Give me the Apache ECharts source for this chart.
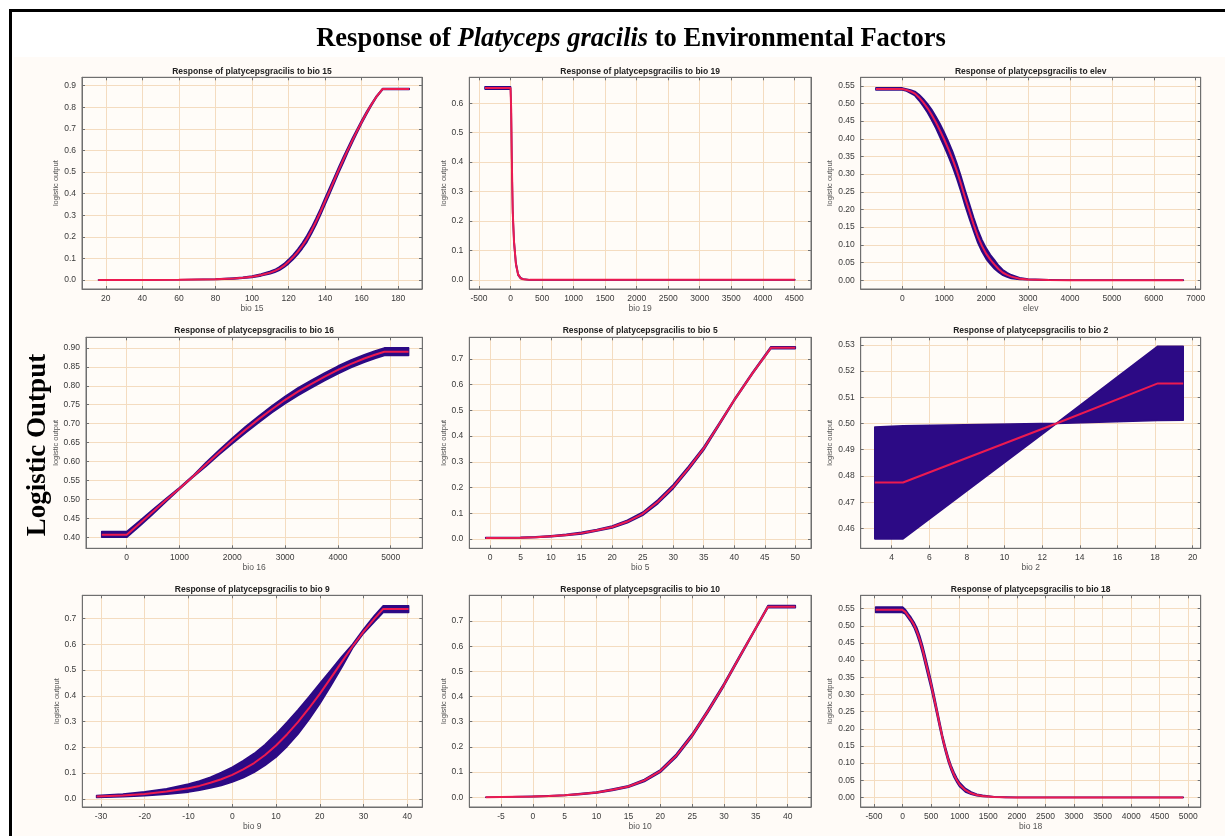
<!DOCTYPE html>
<html><head><meta charset="utf-8">
<script src="https://cdn.jsdelivr.net/npm/echarts@6/dist/echarts.min.js"></script>
<style>html,body{margin:0;padding:0;background:#fff}#c{width:1225px;height:836px}</style>
</head><body><div id="c"></div>
<script>
// ---------------- DATA ----------------
const panelTitles = [
  'Response of platycepsgracilis to bio 15',
  'Response of platycepsgracilis to bio 19',
  'Response of platycepsgracilis to elev',
  'Response of platycepsgracilis to bio 16',
  'Response of platycepsgracilis to bio 5',
  'Response of platycepsgracilis to bio 2',
  'Response of platycepsgracilis to bio 9',
  'Response of platycepsgracilis to bio 10',
  'Response of platycepsgracilis to bio 18'
];
const xAxisNames = ['bio 15','bio 19','elev','bio 16','bio 5','bio 2','bio 9','bio 10','bio 18'];
const yAxisName = 'logistic output';

// rows: [x, mean, lower, upper]
const bio15Curve = [
  [16,0,0,0],[40,0,0,0],[60,0.001,0.001,0.001],[80,0.003,0.002,0.004],[90,0.007,0.005,0.009],
  [95,0.010,0.008,0.012],[100,0.015,0.012,0.018],[105,0.023,0.019,0.027],[110,0.034,0.029,0.040],
  [112.5,0.042,0.036,0.048],[115,0.052,0.045,0.060],[117.5,0.066,0.058,0.075],[120,0.085,0.075,0.095],
  [122.5,0.106,0.095,0.117],[125,0.130,0.118,0.142],[127.5,0.158,0.145,0.171],[130,0.190,0.175,0.205],
  [132.5,0.228,0.213,0.243],[135,0.270,0.255,0.285],[137.5,0.316,0.301,0.331],[140,0.365,0.350,0.380],
  [142.5,0.413,0.399,0.428],[145,0.462,0.448,0.476],[147.5,0.511,0.498,0.524],[150,0.558,0.545,0.570],
  [152.5,0.604,0.593,0.615],[155,0.648,0.638,0.658],[157.5,0.691,0.682,0.699],[160,0.732,0.725,0.739],
  [162.5,0.771,0.765,0.777],[165,0.808,0.803,0.812],[168,0.848,0.845,0.851],[171.5,0.885,0.883,0.887],
  [186,0.885,0.883,0.887]
];
const bio19Curve = [
  [-405,0.652,0.648,0.656],[-200,0.652,0.648,0.656],[0,0.652,0.648,0.656],[10,0.580,0.574,0.586],
  [20,0.410,0.403,0.417],[35,0.230,0.224,0.236],[55,0.130,0.125,0.135],[85,0.055,0.051,0.059],
  [120,0.018,0.016,0.020],[160,0.006,0.005,0.007],[200,0.002,0.002,0.003],[300,0,0,0],[4510,0,0,0]
];
const elevCurve = [
  [-630,0.541,0.538,0.544],[0,0.541,0.538,0.544],[100,0.538,0.535,0.541],[200,0.534,0.529,0.538],
  [300,0.528,0.522,0.534],[400,0.517,0.508,0.525],[500,0.503,0.492,0.513],[600,0.487,0.474,0.499],
  [700,0.468,0.453,0.483],[800,0.447,0.430,0.463],[900,0.423,0.404,0.442],[1000,0.398,0.378,0.418],
  [1100,0.371,0.350,0.392],[1200,0.342,0.320,0.364],[1300,0.309,0.287,0.331],[1400,0.272,0.250,0.294],
  [1500,0.232,0.210,0.254],[1600,0.195,0.174,0.216],[1700,0.158,0.139,0.178],[1800,0.124,0.106,0.143],
  [1900,0.097,0.081,0.114],[2000,0.075,0.060,0.091],[2100,0.058,0.045,0.072],[2200,0.044,0.032,0.057],
  [2300,0.031,0.022,0.041],[2400,0.021,0.014,0.029],[2500,0.015,0.009,0.021],[2600,0.010,0.005,0.015],
  [2800,0.004,0.002,0.007],[3000,0.002,0.001,0.003],[3500,0.0005,0,0.001],[4000,0,0,0],[6706,0,0,0]
];
const bio16Curve = [
  [-473,0.407,0.400,0.415],[0,0.407,0.400,0.415],[250,0.437,0.430,0.444],[500,0.468,0.462,0.474],
  [750,0.499,0.495,0.503],[1000,0.529,0.527,0.531],[1250,0.560,0.558,0.562],[1500,0.592,0.587,0.597],
  [1750,0.624,0.618,0.630],[2000,0.655,0.647,0.662],[2250,0.684,0.676,0.692],[2500,0.712,0.703,0.720],
  [2750,0.738,0.729,0.747],[3000,0.763,0.753,0.772],[3250,0.785,0.775,0.795],[3500,0.805,0.795,0.815],
  [3750,0.824,0.814,0.834],[4000,0.842,0.832,0.852],[4250,0.858,0.848,0.868],[4500,0.872,0.862,0.882],
  [4700,0.882,0.872,0.892],[4880,0.890,0.880,0.900],[5338,0.890,0.880,0.900]
];
const bio5Curve = [
  [-0.7,0.004,0.003,0.006],[5,0.005,0.004,0.007],[7.5,0.007,0.006,0.009],[10,0.011,0.009,0.013],
  [12.5,0.016,0.014,0.018],[15,0.023,0.020,0.026],[17.5,0.034,0.031,0.037],[20,0.047,0.043,0.051],
  [22.5,0.068,0.063,0.073],[25,0.098,0.092,0.104],[27.5,0.145,0.138,0.152],[30,0.203,0.196,0.211],
  [32.5,0.275,0.268,0.282],[35,0.352,0.346,0.358],[37.5,0.445,0.441,0.449],[40,0.540,0.537,0.543],
  [43,0.645,0.642,0.648],[46,0.743,0.740,0.747],[50,0.743,0.740,0.747]
];
const bio2Curve = [
  [3.1,0.4775,0.4560,0.4987],[4.6,0.4775,0.4560,0.4991],[12.75,0.5000,0.5000,0.5001],
  [18.15,0.5153,0.5012,0.5295],[19.5,0.5153,0.5013,0.5295]
];
const bio9Curve = [
  [-31,0.009,0.005,0.013],[-25,0.013,0.008,0.018],[-20,0.019,0.012,0.027],[-15,0.028,0.018,0.039],
  [-10,0.041,0.026,0.057],[-7.5,0.050,0.033,0.069],[-5,0.062,0.042,0.084],[-2.5,0.076,0.052,0.102],
  [0,0.093,0.065,0.123],[2.5,0.114,0.082,0.148],[5,0.139,0.103,0.176],[7.5,0.170,0.130,0.211],
  [10,0.207,0.162,0.252],[12.5,0.250,0.203,0.297],[15,0.298,0.251,0.345],[17.5,0.351,0.307,0.396],
  [20,0.408,0.369,0.448],[22.5,0.469,0.438,0.500],[25,0.531,0.510,0.552],[27.5,0.593,0.586,0.601],
  [30,0.650,0.643,0.659],[32.5,0.700,0.688,0.712],[34.5,0.738,0.724,0.750],[40.3,0.738,0.724,0.750]
];
const bio10Curve = [
  [-7.4,0,0,0],[-5,0.001,0.001,0.001],[0,0.003,0.002,0.004],[2.5,0.005,0.004,0.006],[5,0.008,0.007,0.009],
  [7.5,0.013,0.011,0.015],[10,0.019,0.017,0.021],[12.5,0.030,0.027,0.033],[15,0.043,0.040,0.046],
  [17.5,0.067,0.063,0.071],[20,0.104,0.099,0.109],[22.5,0.165,0.159,0.171],[25,0.246,0.240,0.252],
  [27.5,0.343,0.337,0.349],[30,0.447,0.442,0.452],[32.5,0.560,0.556,0.564],[35,0.672,0.669,0.675],
  [36.9,0.757,0.753,0.761],[41.2,0.757,0.753,0.761]
];
const bio18Curve = [
  [-471,0.547,0.539,0.555],[-4,0.547,0.539,0.555],[50,0.540,0.534,0.547],[100,0.528,0.522,0.535],
  [150,0.517,0.510,0.524],[200,0.503,0.495,0.511],[250,0.484,0.474,0.494],[300,0.460,0.449,0.471],
  [350,0.431,0.419,0.443],[400,0.397,0.385,0.409],[450,0.363,0.351,0.375],[500,0.328,0.317,0.339],
  [550,0.290,0.280,0.300],[600,0.251,0.242,0.259],[650,0.211,0.203,0.219],[700,0.173,0.166,0.180],
  [750,0.140,0.133,0.147],[800,0.110,0.103,0.117],[850,0.086,0.079,0.093],[900,0.066,0.059,0.073],
  [950,0.050,0.044,0.056],[1000,0.037,0.031,0.043],[1100,0.021,0.016,0.026],[1200,0.012,0.009,0.016],
  [1300,0.007,0.005,0.009],[1400,0.004,0.003,0.006],[1600,0.0015,0.001,0.002],[1800,0.0005,0,0.001],
  [2000,0,0,0],[4912,0,0,0]
];
const curves = [bio15Curve,bio19Curve,elevCurve,bio16Curve,bio5Curve,bio2Curve,bio9Curve,bio10Curve,bio18Curve];

// tick labels
const bio15XTicks = [20,40,60,80,100,120,140,160,180];
const bio19XTicks = [-500,0,500,1000,1500,2000,2500,3000,3500,4000,4500];
const elevXTicks  = [0,1000,2000,3000,4000,5000,6000,7000];
const bio16XTicks = [0,1000,2000,3000,4000,5000];
const bio5XTicks  = [0,5,10,15,20,25,30,35,40,45,50];
const bio2XTicks  = [4,6,8,10,12,14,16,18,20];
const bio9XTicks  = [-30,-20,-10,0,10,20,30,40];
const bio10XTicks = [-5,0,5,10,15,20,25,30,35,40];
const bio18XTicks = [-500,0,500,1000,1500,2000,2500,3000,3500,4000,4500,5000];
const bio15YTicks = ['0.0','0.1','0.2','0.3','0.4','0.5','0.6','0.7','0.8','0.9'];
const bio19YTicks = ['0.0','0.1','0.2','0.3','0.4','0.5','0.6'];
const elevYTicks  = ['0.00','0.05','0.10','0.15','0.20','0.25','0.30','0.35','0.40','0.45','0.50','0.55'];
const bio16YTicks = ['0.40','0.45','0.50','0.55','0.60','0.65','0.70','0.75','0.80','0.85','0.90'];
const bio5YTicks  = ['0.0','0.1','0.2','0.3','0.4','0.5','0.6','0.7'];
const bio2YTicks  = ['0.46','0.47','0.48','0.49','0.50','0.51','0.52','0.53'];
const bio9YTicks  = ['0.0','0.1','0.2','0.3','0.4','0.5','0.6','0.7'];
const bio10YTicks = ['0.0','0.1','0.2','0.3','0.4','0.5','0.6','0.7'];
const bio18YTicks = ['0.00','0.05','0.10','0.15','0.20','0.25','0.30','0.35','0.40','0.45','0.50','0.55'];
const xTickSets = [bio15XTicks,bio19XTicks,elevXTicks,bio16XTicks,bio5XTicks,bio2XTicks,bio9XTicks,bio10XTicks,bio18XTicks];
const yTickSets = [bio15YTicks,bio19YTicks,elevYTicks,bio16YTicks,bio5YTicks,bio2YTicks,bio9YTicks,bio10YTicks,bio18YTicks];

// ---------------- LAYOUT ----------------
const layout = [
  {left:82,    top:77.3,  width:340,   height:211.7, xMin:7,      xMax:193,   yMin:-0.042, yMax:0.939,  gap:15, titleY:67.5},
  {left:469.3, top:77.3,  width:341.7, height:211.7, xMin:-654,   xMax:4765,  yMin:-0.031, yMax:0.688,  gap:15, titleY:67.5},
  {left:860.7, top:77.3,  width:340,   height:211.7, xMin:-993,   xMax:7119,  yMin:-0.025, yMax:0.574,  gap:20, titleY:67.5},
  {left:86,    top:337.3, width:336.3, height:211,   xMin:-771,   xMax:5598,  yMin:0.371,  yMax:0.928,  gap:20, titleY:326.5},
  {left:469.3, top:337.3, width:341.7, height:211,   xMin:-3.39,  xMax:52.57, yMin:-0.036, yMax:0.784,  gap:15, titleY:326.5},
  {left:860.7, top:337.3, width:340,   height:211,   xMin:2.35,   xMax:20.43, yMin:0.4524, yMax:0.5329, gap:20, titleY:326.5},
  {left:82.3,  top:595.3, width:340,   height:211.7, xMin:-34.27, xMax:43.43, yMin:-0.032, yMax:0.791,  gap:15, titleY:585},
  {left:469.3, top:595.3, width:341.7, height:211.7, xMin:-9.98,  xMax:43.66, yMin:-0.0385,yMax:0.802,  gap:15, titleY:585},
  {left:860.7, top:595.3, width:340,   height:211.7, xMin:-733,   xMax:5217,  yMin:-0.028, yMax:0.589,  gap:20, titleY:585}
];

const BLUE = '#2c0a85';
const RED = '#ec1a50';
const GRIDC = '#f4dcc0';
const AXC = '#6f6f6f';
const LABC = '#3a3a3a';
const SANS = 'Liberation Sans, Arial, sans-serif';
const SERIF = 'Liberation Serif, Times New Roman, serif';

const grids = [], xAxes = [], yAxes = [], series = [], titles = [];

titles.push({
  text: '{n|Response of }{i|Platyceps gracilis}{n| to Environmental Factors}',
  left: 626, top: 21, textAlign: 'center',
  textStyle: {
    rich: {
      n: {fontFamily: SERIF, fontWeight: 'bold', fontSize: 26.5, color: '#000'},
      i: {fontFamily: SERIF, fontWeight: 'bold', fontStyle: 'italic', fontSize: 26.5, color: '#000'}
    }
  }
});

layout.forEach((L, i) => {
  grids.push({left: L.left, top: L.top, width: L.width, height: L.height, show: true,
    backgroundColor: '#fffcf8', borderColor: AXC, borderWidth: 1, containLabel: false});
  titles.push({text: panelTitles[i], left: L.left + L.width / 2, top: L.titleY, textAlign: 'center', padding: 0,
    textStyle: {fontFamily: SANS, fontWeight: 'bold', fontSize: 8.5, color: '#222'}});
  const xt = xTickSets[i];
  const yt = yTickSets[i].map(Number);
  const ylab = yTickSets[i];
  xAxes.push({type: 'value', gridIndex: i, min: L.xMin, max: L.xMax, position: 'bottom',
    name: xAxisNames[i], nameLocation: 'middle', nameGap: 14,
    nameTextStyle: {fontFamily: SANS, fontSize: 8.5, color: '#555'},
    axisLine: {show: true, onZero: false, lineStyle: {color: AXC, width: 1}},
    axisTick: {show: true, inside: true, length: 3, customValues: xt, lineStyle: {color: AXC}},
    axisLabel: {customValues: xt, margin: 5, fontFamily: SANS, fontSize: 8.5, color: LABC,
      formatter: v => String(Math.round(v * 1000) / 1000)},
    splitLine: {show: true, lineStyle: {color: GRIDC, width: 1}}
  });
  // top mirror axis (ticks only)
  xAxes.push({type: 'value', gridIndex: i, min: L.xMin, max: L.xMax, position: 'top',
    axisLine: {show: true, onZero: false, lineStyle: {color: AXC, width: 1}},
    axisTick: {show: true, inside: true, length: 3, customValues: xt, lineStyle: {color: AXC}},
    axisLabel: {show: false}, splitLine: {show: false}
  });
  yAxes.push({type: 'value', gridIndex: i, min: L.yMin, max: L.yMax, position: 'left',
    name: yAxisName, nameLocation: 'middle', nameGap: L.gap,
    nameTextStyle: {fontFamily: SANS, fontSize: 7.5, color: '#555'},
    axisLine: {show: true, onZero: false, lineStyle: {color: AXC, width: 1}},
    axisTick: {show: true, inside: true, length: 3, customValues: yt, lineStyle: {color: AXC}},
    axisLabel: {customValues: yt, margin: 6, fontFamily: SANS, fontSize: 8.5, color: LABC,
      formatter: v => { const k = yt.findIndex(t => Math.abs(t - v) < 1e-9); return k >= 0 ? ylab[k] : ''; }},
    splitLine: {show: true, lineStyle: {color: GRIDC, width: 1}}
  });
  // right mirror axis (ticks only)
  yAxes.push({type: 'value', gridIndex: i, min: L.yMin, max: L.yMax, position: 'right',
    axisLine: {show: true, onZero: false, lineStyle: {color: AXC, width: 1}},
    axisTick: {show: true, inside: true, length: 3, customValues: yt, lineStyle: {color: AXC}},
    axisLabel: {show: false}, splitLine: {show: false}
  });
  const xi = 2 * i, yi = 2 * i;
  const curve = curves[i];
  series.push({
    type: 'custom', xAxisIndex: xi, yAxisIndex: yi, clip: true, silent: true,
    data: curve.map(r => [r[0], r[2], r[3]]),
    encode: {x: 0, y: [1, 2]},
    renderItem: function (params, api) {
      if (params.dataIndex !== 0) return null;
      const pts = [];
      for (let k = 0; k < curve.length; k++) pts.push(api.coord([curve[k][0], curve[k][3]]));
      for (let k = curve.length - 1; k >= 0; k--) pts.push(api.coord([curve[k][0], curve[k][2]]));
      return {type: 'polygon', shape: {points: pts}, style: {fill: BLUE, stroke: BLUE, lineWidth: 1.6, lineJoin: 'round'}};
    },
    z: 2
  });
  series.push({
    type: 'line', xAxisIndex: xi, yAxisIndex: yi, showSymbol: false, symbol: 'none', smooth: false,
    data: curve.map(r => [r[0], r[1]]),
    lineStyle: {color: RED, width: 2}, z: 3, silent: true
  });
});

const chart = echarts.init(document.getElementById('c'), null, {renderer: 'canvas'});
chart.setOption({
  animation: false,
  backgroundColor: '#ffffff',
  title: titles,
  grid: grids, xAxis: xAxes, yAxis: yAxes, series: series,
  graphic: [
    {type: 'rect', z: -10, silent: true, shape: {x: 14, y: 57, width: 1215, height: 785}, style: {fill: '#fffbf7'}},
    {type: 'rect', z: 100, silent: true, shape: {x: 10.5, y: 10.5, width: 1230, height: 840}, style: {fill: 'none', stroke: '#000', lineWidth: 3}},
    {type: 'text', z: 100, silent: true, x: 38, y: 445, rotation: Math.PI / 2,
      style: {text: 'Logistic Output', font: 'bold 27px "Liberation Serif", "Times New Roman", serif', fill: '#000', align: 'center', verticalAlign: 'middle'}}
  ]
});
</script></body></html>
